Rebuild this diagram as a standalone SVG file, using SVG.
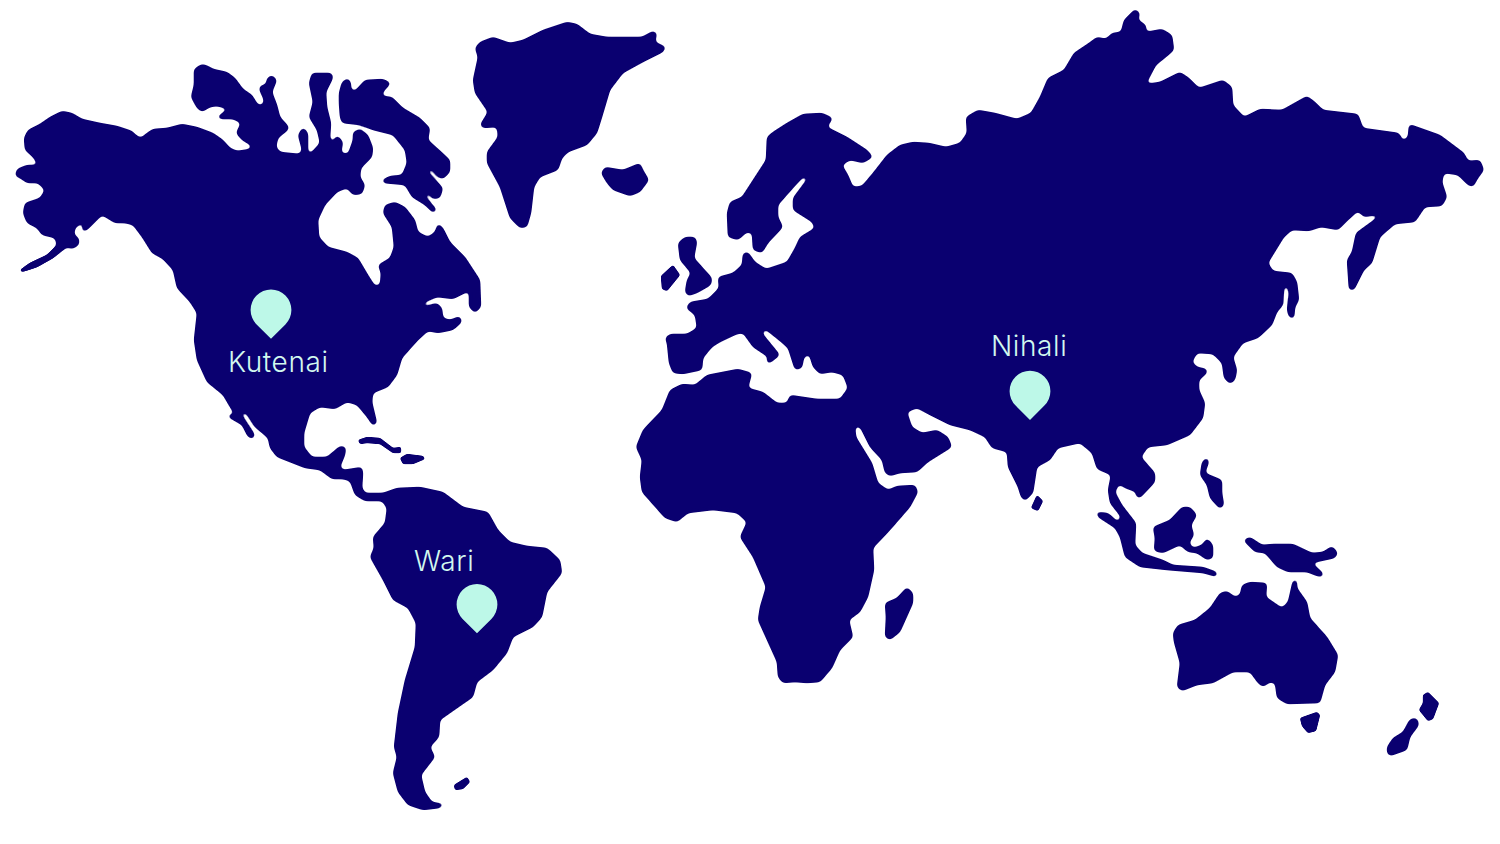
<svg xmlns="http://www.w3.org/2000/svg" width="1500" height="844" viewBox="0 0 1500 844">
<style>
.land{fill:#0a0070}
.pin{fill:#bdf8e8}
.label{fill:#d2f8ef;font-family:"Inter","Lato","Liberation Sans",sans-serif;font-weight:300;font-size:28px;letter-spacing:.6px}
</style>
<defs>
<filter id="smooth" filterUnits="userSpaceOnUse" x="0" y="0" width="1500" height="844" color-interpolation-filters="sRGB">
<feGaussianBlur stdDeviation="2.3"/>
<feComponentTransfer><feFuncA type="linear" slope="6" intercept="-2.2"/></feComponentTransfer>
</filter>
<filter id="fine" filterUnits="userSpaceOnUse" x="0" y="0" width="1500" height="844" color-interpolation-filters="sRGB">
<feGaussianBlur stdDeviation="1.2"/>
<feComponentTransfer><feFuncA type="linear" slope="4" intercept="-1.2"/></feComponentTransfer>
</filter>
<path id="drop" d="M0 28.8L-14.4 14.4A20.4 20.4 0 1 1 14.4 14.4Z"/>
</defs>
<rect width="1500" height="844" fill="#fff"/>
<g id="map" class="land" filter="url(#smooth)">
<polygon id="americas" points="24,138 28,130 40,124 50,117 62,111 72,113 82,119 100,123 117,126 132,131 137,136 141,138 147,133 153,129 167,128 182,124 197,127 213,133 223,140 230,148 237,151 250,149 252,146 242,140 236,133 241,123 233,119 220,119 217,117 228,109 217,106 210,107 202,112 197,108 191,97 194,85 194,69 202,64 208,66 213,69 227,72 235,78 243,89 252,95 258,105 263,105 264,100 259,89 261,85 266,85 267,78 272,75 277,80 272,92 277,105 280,117 289,127 288,130 278,138 276,147 280,152 300,154 302,150 298,135 303,127 308,133 308,153 311,153 320,143 317,130 309,117 313,102 309,83 312,73 332,73 333,78 326,92 327,107 331,123 330,138 332,143 337,135 343,142 341,153 348,154 353,140 353,132 360,129 368,135 373,148 372,157 361,168 360,177 365,185 362,194 353,195 347,188 337,192 325,205 318,220 319,237 328,247 347,252 358,258 368,275 375,286 380,285 381,273 378,265 390,258 394,247 392,227 383,213 385,205 395,202 405,207 415,220 418,232 428,237 435,232 438,223 443,228 450,242 465,257 480,280 481,307 475,313 469,307 469,291 453,299 437,297 425,302 423,307 437,303 442,308 443,318 450,320 460,316 462,322 453,330 438,333 428,331 418,340 402,358 397,375 388,387 373,393 372,402 377,423 373,426 367,417 357,405 347,402 335,409 320,407 310,413 304,433 304,447 312,457 327,457 340,446 346,447 345,455 340,467 343,470 362,467 363,473 362,488 365,493 383,493 397,488 420,487 443,492 463,507 488,512 498,530 510,542 527,546 547,548 560,560 562,573 547,592 542,617 533,627 513,637 507,653 493,670 477,682 473,697 460,706 440,720 439,737 430,747 435,757 421,775 425,792 432,802 444,804 440,808 423,810 408,805 398,792 393,773 397,757 394,747 398,713 405,680 415,647 416,623 408,608 393,600 383,580 370,557 374,548 373,537 385,523 387,508 382,501 365,501 355,495 350,481 343,479 332,479 320,470 305,468 277,457 270,448 268,438 255,427 246,413 242,412 242,415 247,423 255,435 253,439 248,437 242,425 228,417 229,414 235,415 230,407 223,395 207,382 197,360 194,340 197,313 190,302 177,288 173,270 163,259 152,253 142,237 133,225 125,223 115,223 102,215 97,220 87,230 82,232 83,222 75,228 74,235 79,238 79,245 72,249 67,247 53,258 37,267 22,272 20,270 30,263 47,255 57,245 55,238 42,235 37,228 27,223 23,213 25,203 40,198 45,190 38,183 27,183 20,178 15,176 17,169 27,165 38,165 33,157 25,150"/>
<polygon id="baffin" points="339,93 342,82 348,78 351,83 351,90 355,91 365,80 383,79 391,83 383,92 382,96 392,97 403,108 420,118 430,128 428,140 437,148 450,160 450,172 443,179 438,177 430,168 428,172 443,188 440,198 433,199 428,193 425,196 437,210 433,213 425,205 412,197 405,185 383,183 382,180 390,176 402,175 407,163 405,150 393,135 373,130 360,125 342,123 340,117 339,103"/>
<polygon id="greenland" points="475,48 480,42 493,37 510,43 523,40 543,30 567,22 577,24 590,34 607,37 642,37 653,31 657,33 655,42 666,47 663,52 643,62 623,73 610,90 602,117 597,133 587,145 568,152 562,158 558,170 540,177 534,187 531,213 527,227 520,228 510,218 500,187 487,163 487,152 498,137 497,127 483,128 480,125 488,112 475,93 473,80 478,57"/>
<polygon id="iceland" points="601,173 605,167 623,170 640,163 643,170 649,180 640,192 630,196 613,190 607,183"/>
<polygon id="afro-eurasia" points="742,197 753,180 766,160 767,137 773,132 787,123 803,114 822,113 833,118 827,127 847,137 867,150 873,157 863,163 850,160 842,165 848,175 853,187 862,186 873,173 887,155 900,145 913,142 929,143 946,147 960,143 967,133 966,117 978,110 995,113 1017,119 1031,113 1040,97 1048,78 1064,70 1074,53 1089,43 1097,37 1106,39 1112,33 1121,32 1124,20 1135,9 1140,13 1138,20 1146,25 1146,32 1162,29 1172,35 1174,50 1166,57 1156,65 1146,84 1160,82 1180,72 1189,78 1199,88 1223,80 1232,87 1233,105 1244,117 1260,109 1282,110 1307,96 1315,102 1323,110 1358,114 1363,128 1399,133 1403,141 1408,137 1409,124 1440,135 1464,153 1468,161 1480,160 1484,170 1478,178 1473,187 1468,185 1458,175 1444,173 1442,182 1447,197 1442,206 1425,207 1415,222 1395,224 1380,237 1372,263 1364,270 1354,290 1349,290 1347,260 1352,252 1356,233 1378,217 1376,215 1364,217 1358,211 1348,220 1338,230 1321,227 1309,231 1292,230 1284,237 1268,263 1273,271 1292,273 1297,282 1299,300 1295,307 1294,319 1289,317 1287,310 1289,293 1287,285 1284,287 1283,305 1277,312 1272,325 1258,338 1243,343 1233,357 1237,370 1235,380 1230,384 1224,378 1222,363 1213,354 1197,353 1192,362 1197,367 1207,369 1207,373 1199,380 1199,390 1205,403 1203,418 1190,435 1167,445 1148,447 1141,457 1155,473 1155,482 1140,498 1136,497 1136,492 1125,488 1119,484 1115,492 1122,505 1136,523 1135,545 1142,553 1163,560 1173,565 1203,567 1217,572 1217,577 1203,573 1167,570 1140,567 1125,557 1120,537 1115,528 1098,517 1096,512 1108,513 1118,522 1121,517 1110,503 1108,490 1111,475 1097,469 1092,453 1080,443 1058,448 1050,460 1037,467 1033,493 1025,501 1021,497 1018,487 1008,467 1007,452 992,448 985,437 970,430 950,425 930,415 917,408 907,412 912,427 922,433 937,430 948,437 952,447 928,462 917,472 900,473 890,476 885,473 882,460 870,447 860,427 855,426 856,437 872,463 878,483 888,490 897,486 915,485 918,492 910,507 890,530 873,548 874,570 868,597 860,612 849,620 853,637 840,650 832,668 820,682 807,683 795,682 783,683 778,677 777,662 758,620 760,607 766,587 753,557 740,537 747,522 737,513 713,510 688,513 677,522 665,518 642,492 640,477 642,460 636,447 643,430 662,410 670,390 682,384 695,385 707,375 738,369 752,373 748,388 763,392 777,403 787,403 790,395 817,399 840,399 848,388 843,375 832,372 820,374 813,367 809,354 804,357 802,368 795,370 788,348 780,341 765,329 762,333 780,355 770,363 766,363 768,357 753,347 743,333 737,334 720,342 712,347 703,358 702,370 683,374 673,373 669,363 667,343 665,338 670,334 687,334 697,328 695,315 686,308 690,302 708,299 719,288 718,277 733,273 742,265 743,253 748,252 755,262 766,269 787,262 795,248 800,237 815,228 812,222 793,210 793,198 808,178 803,177 793,188 778,205 778,217 783,227 768,243 762,253 753,250 752,233 747,232 738,240 728,237 727,213 730,202"/>
<polygon id="britain" points="678,243 685,237 695,237 697,242 694,258 712,278 711,285 697,293 688,296 685,292 687,280 691,273 680,260"/>
<polygon id="madagascar" points="885,603 897,598 907,587 913,593 913,603 900,632 890,640 885,637 886,617"/>
<polygon id="philippines" points="1202,462 1207,457 1209,462 1205,473 1222,480 1222,493 1224,505 1220,509 1210,498 1207,485 1200,475"/>
<polygon id="borneo" points="1153,527 1170,520 1182,507 1190,507 1197,515 1191,525 1194,535 1189,543 1193,548 1202,545 1207,538 1213,545 1213,558 1207,560 1197,553 1188,552 1180,545 1163,553 1154,551 1155,538"/>
<polygon id="new-guinea" points="1243,540 1250,537 1262,545 1273,544 1293,544 1312,553 1323,552 1332,546 1338,553 1335,558 1312,563 1323,573 1323,577 1317,576 1307,572 1288,572 1277,567 1265,553 1255,552"/>
<polygon id="australia" points="1173,633 1178,625 1195,620 1210,608 1220,593 1227,591 1235,597 1240,595 1242,585 1250,582 1267,583 1266,597 1282,608 1288,602 1293,580 1297,580 1297,588 1307,602 1310,618 1327,637 1338,655 1335,672 1325,685 1320,703 1287,704 1277,698 1275,683 1270,682 1263,687 1258,683 1250,672 1233,672 1213,683 1197,685 1182,691 1177,687 1180,663 1174,642"/>
<polygon id="nz-south" points="1387,747 1393,738 1403,732 1410,719 1417,718 1419,725 1410,737 1407,750 1390,756 1387,753"/>
</g>
<g id="small-land" class="land" filter="url(#fine)">
<polygon id="alaska-tail" points="20,270 30,263 47,255 57,245 66,247 53,258 37,267 22,272"/>
<polygon id="cuba" points="358,440 367,437 380,438 393,448 401,447 401,453 393,453 380,444 367,443 360,444"/>
<polygon id="hispaniola" points="400,458 407,454 423,456 425,459 413,464 403,464"/>
<polygon id="ireland" points="661,276 673,265 680,275 667,291 662,289"/>
<polygon id="sri-lanka" points="1031,508 1037,495 1043,501 1038,511"/>
<polygon id="falkland" points="454,785 467,777 470,782 463,789 455,790"/>
<polygon id="tasmania" points="1300,718 1317,712 1320,715 1316,731 1308,733 1302,726"/>
<polygon id="nz-north" points="1423,695 1428,692 1439,703 1433,719 1428,721 1419,710 1423,703"/>
</g>
<g id="node-kutenai">
<use href="#drop" class="pin" x="271" y="310"/>
<text class="label" x="228" y="372">Kutenai</text>
</g>
<g id="node-nihali">
<use href="#drop" class="pin" x="1030" y="391.2"/>
<text class="label" x="991" y="356">Nihali</text>
</g>
<g id="node-wari">
<use href="#drop" class="pin" x="477" y="604.5"/>
<text class="label" x="414" y="571">Wari</text>
</g>
</svg>
